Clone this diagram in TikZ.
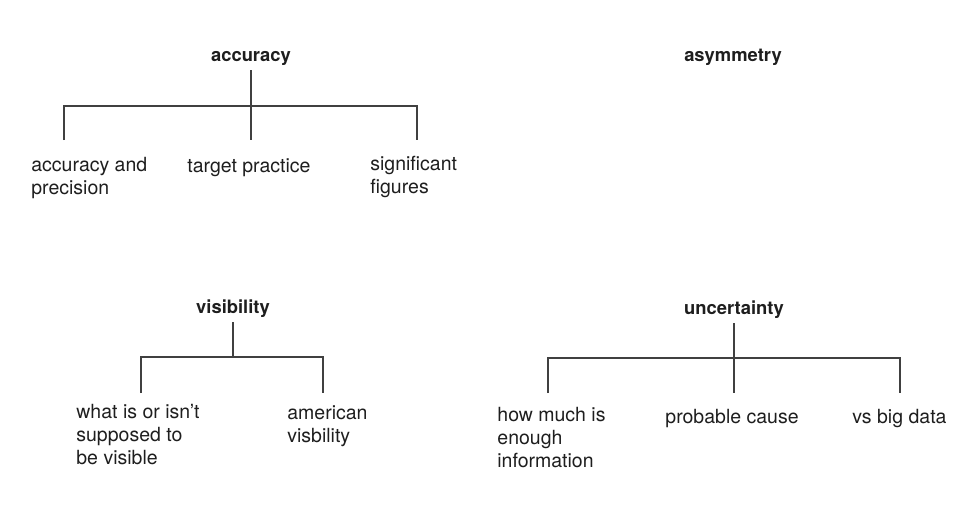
\documentclass[tikz,border=0pt]{standalone}
\usepackage{fontspec}
\setmainfont{TeX Gyre Heros}
\definecolor{ink}{HTML}{1E1E1E}
\definecolor{rulegray}{HTML}{404040}
\tikzset{
  topic/.style={font=\fontsize{9.2}{10}\selectfont\bfseries, inner sep=0pt, outer sep=2.5pt, anchor=base},
  leaf/.style={align=left, inner sep=0pt, anchor=base west},
  branch/.style={draw=rulegray, line width=0.55pt}
}
\begin{document}
\begin{tikzpicture}[x=0.5pt,y=-0.5pt,font=\fontsize{9.75}{11.3}\selectfont,text=ink]
\useasboundingbox (0,0) rectangle (978,516);
%topics
\node[topic] (acc) at (251,61) {accuracy};
\node[topic] (asym) at (733,61) {asymmetry};
\node[topic] (vis) at (233,313) {visibility};
\node[topic] (unc) at (734,314) {uncertainty};
%leaves (base = last line)
%%accuracy
\node[leaf] (acc1) at (31,194) {accuracy and\\precision};
\node[leaf] (acc2) at (187,172) {target practice};
\node[leaf] (acc3) at (370,193) {significant\\figures};
%%visibility
\node[leaf] (vis1) at (76,464) {what is or isn’t\\supposed to\\be visible};
\node[leaf] (vis2) at (287,442) {american\\visbility};
%%uncertainty
\node[leaf] (unc1) at (497,467) {how much is\\enough\\information};
\node[leaf] (unc2) at (665,423) {probable cause};
\node[leaf] (unc3) at (852,423) {vs big data};
%junctions
\coordinate (acc-m) at (251,106);
\coordinate (acc-l) at (64,140);
\coordinate (acc-c) at (251,140);
\coordinate (acc-r) at (417,140);
\coordinate (vis-m) at (233,357);
\coordinate (vis-l) at (141,393);
\coordinate (vis-r) at (323,393);
\coordinate (unc-m) at (734,358);
\coordinate (unc-l) at (548,393);
\coordinate (unc-c) at (734,393);
\coordinate (unc-r) at (900,393);
%branches
\draw[branch] (acc-l) |- (acc-m) -| (acc-r);
\draw[branch] (acc) -- (acc-c);
\draw[branch] (vis-l) |- (vis-m) -| (vis-r);
\draw[branch] (vis) -- (vis-m);
\draw[branch] (unc-l) |- (unc-m) -| (unc-r);
\draw[branch] (unc) -- (unc-c);
\end{tikzpicture}
\end{document}
